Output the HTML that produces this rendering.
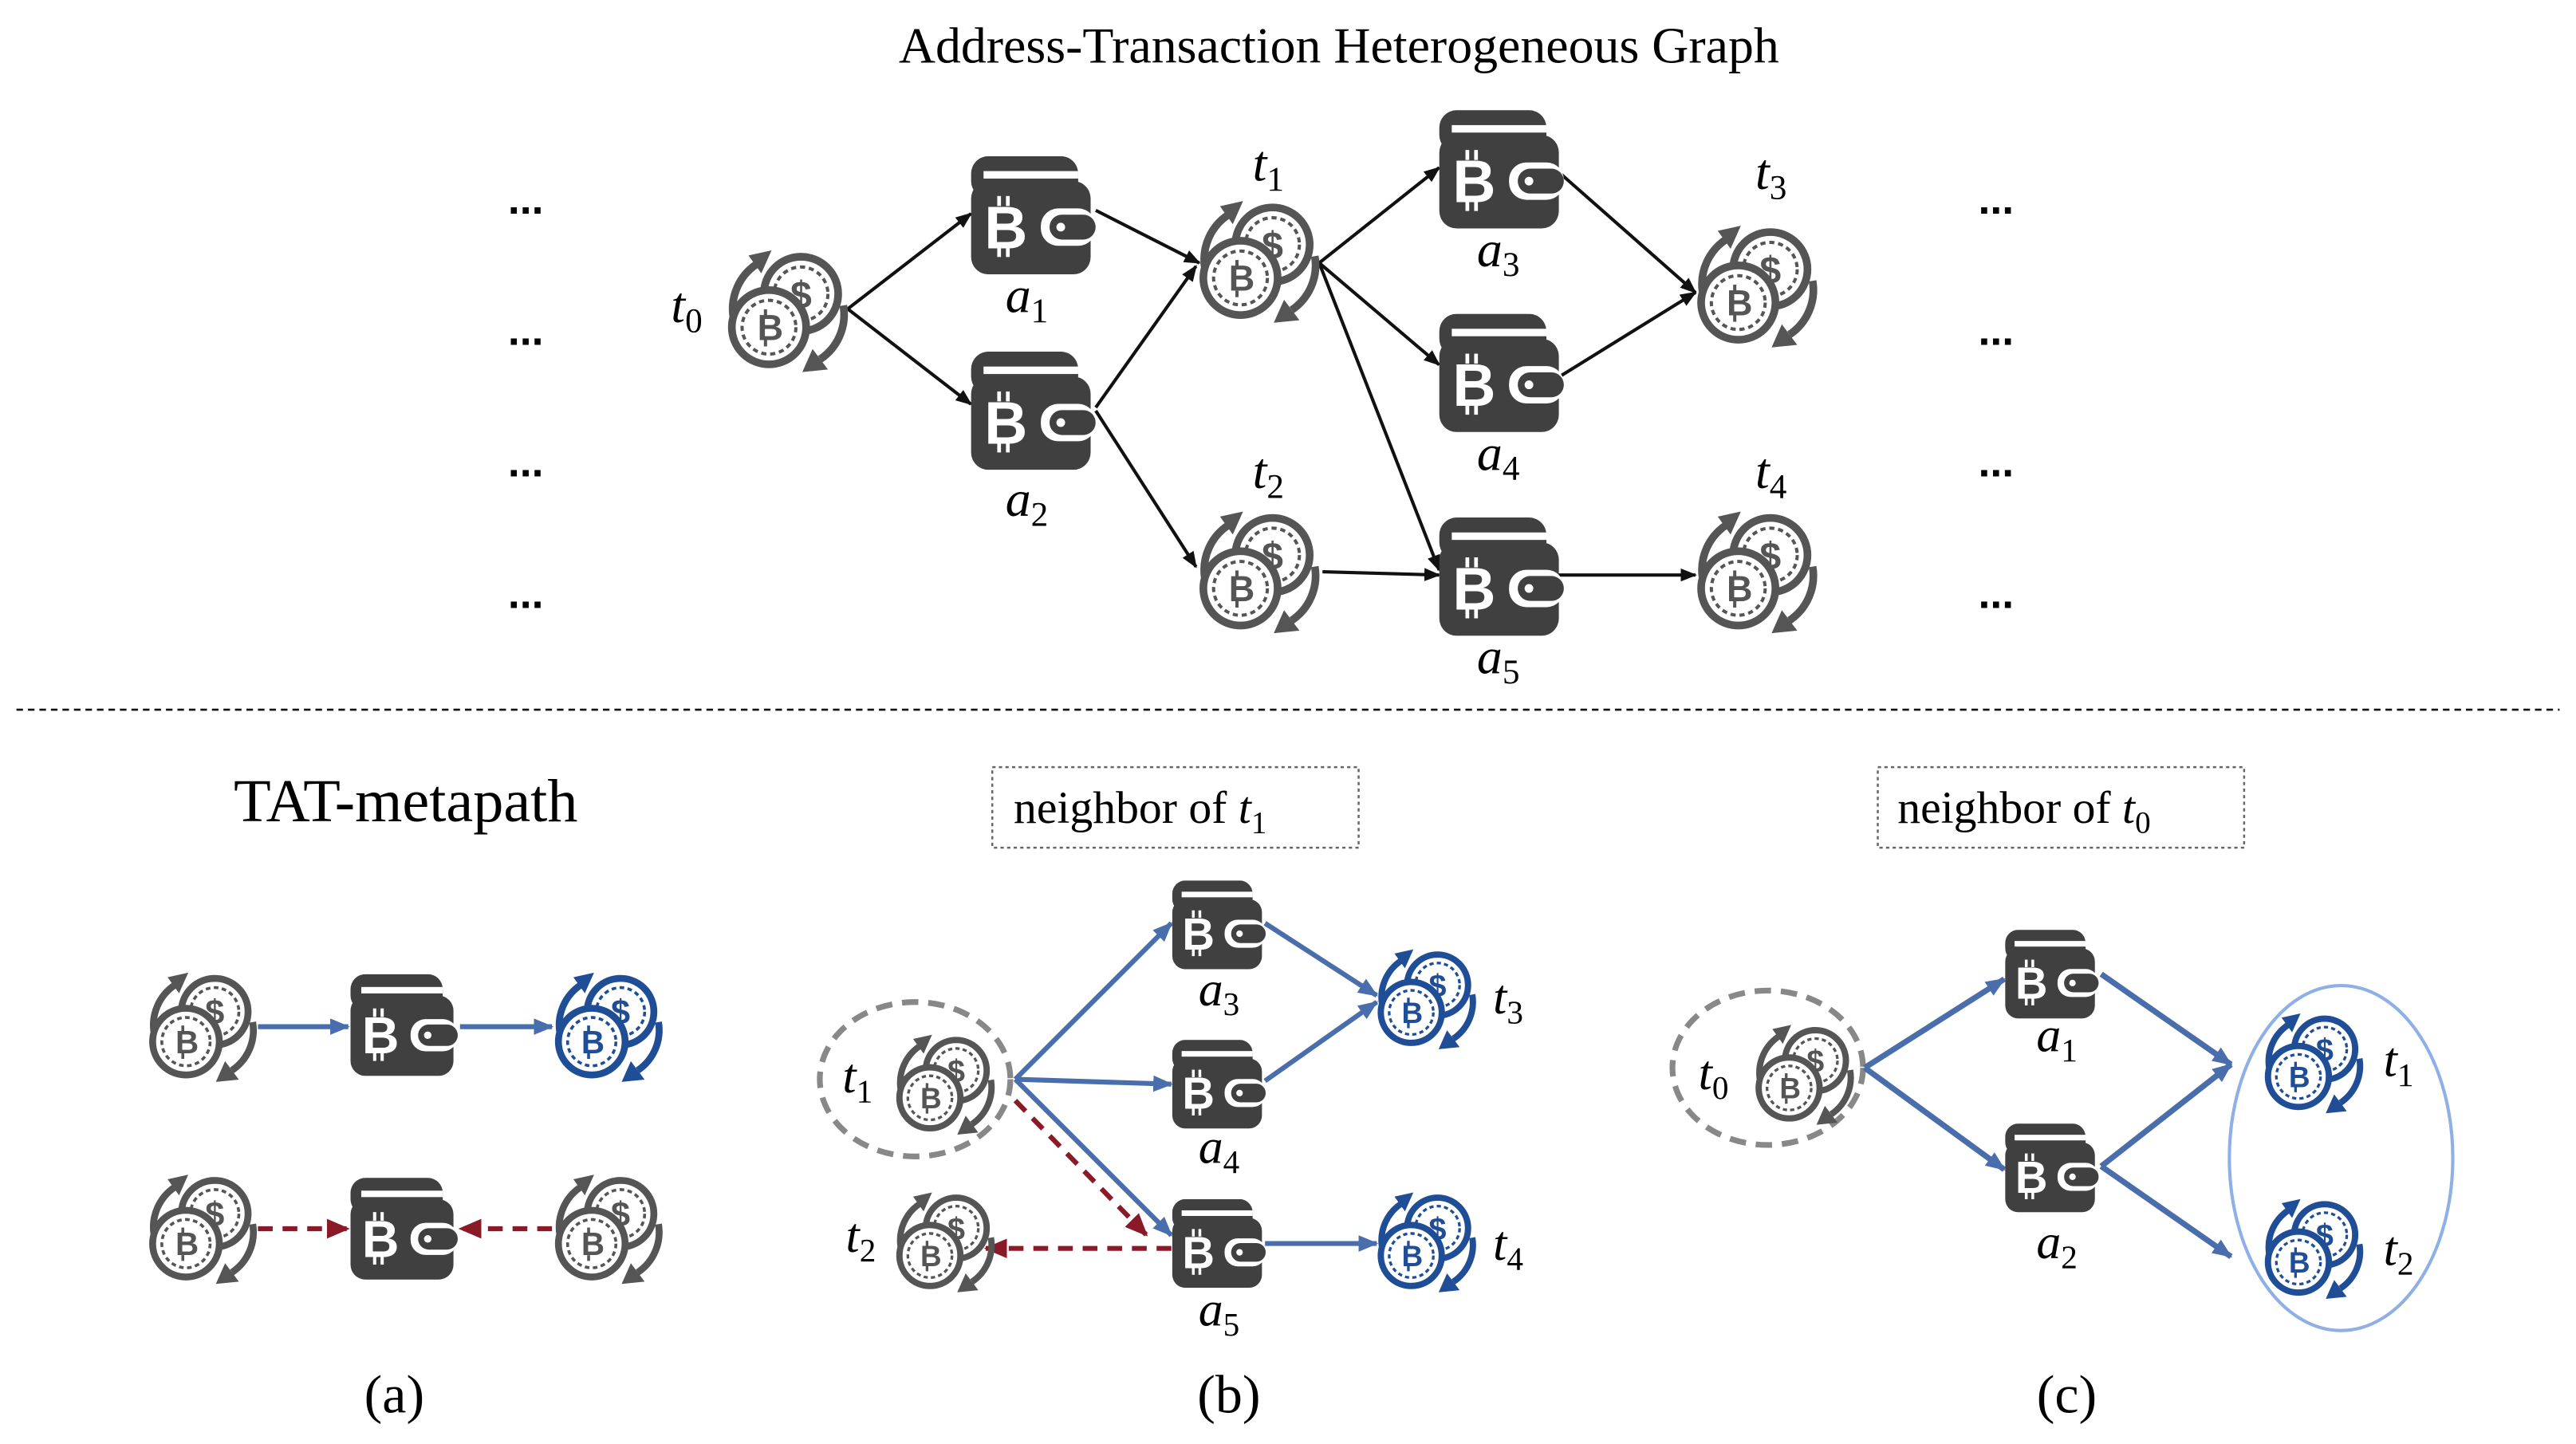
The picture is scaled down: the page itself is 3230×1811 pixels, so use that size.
<!DOCTYPE html>
<html><head><meta charset="utf-8"><style>
html,body{margin:0;padding:0;background:#fff;}
svg{display:block;}
.m{font-family:"Liberation Serif",serif;font-style:italic;}
.s{font-style:normal;}
</style></head><body>
<svg width="3230" height="1811" viewBox="0 0 1568 879" xmlns="http://www.w3.org/2000/svg">
<defs>
<symbol id="coin" viewBox="0 0 100 100">
  <path d="M8 54 A42 42 0 0 1 26 14" fill="none" stroke="currentColor" stroke-width="6"/>
  <polygon points="20,7 38,3 30,21" fill="currentColor"/>
  <path d="M94 46 A42 42 0 0 1 76 88" fill="none" stroke="currentColor" stroke-width="6"/>
  <polygon points="82,96 62,98 70,80" fill="currentColor"/>
  <circle cx="61" cy="37" r="29" fill="#fff" stroke="currentColor" stroke-width="6"/>
  <circle cx="61" cy="37" r="21" fill="none" stroke="currentColor" stroke-width="2.5" stroke-dasharray="4 3"/>
  <text x="61" y="48" text-anchor="middle" font-family="Liberation Sans,sans-serif" font-weight="bold" font-size="30" fill="currentColor">$</text>
  <circle cx="36" cy="63" r="29" fill="#fff" stroke="currentColor" stroke-width="6"/>
  <circle cx="36" cy="63" r="21" fill="none" stroke="currentColor" stroke-width="2.5" stroke-dasharray="4 3"/>
  <text x="37" y="73" text-anchor="middle" font-family="Liberation Sans,sans-serif" font-weight="bold" font-size="28" fill="currentColor">B</text>
  <rect x="32" y="49" width="2.5" height="5" fill="currentColor"/>
  <rect x="32" y="73" width="2.5" height="5" fill="currentColor"/>
</symbol>
<symbol id="wallet" viewBox="0 0 100 95">
  <rect x="0" y="0" width="86" height="34" rx="14" fill="#404040"/>
  <rect x="10" y="12" width="76" height="6" fill="#fff"/>
  <rect x="0" y="20" width="96" height="75" rx="14" fill="#404040"/>
  <rect x="56" y="42" width="44" height="30" rx="14" fill="#fff"/>
  <rect x="63" y="47" width="37" height="20" rx="10" fill="#404040"/>
  <circle cx="72" cy="57" r="3.5" fill="#fff"/>
  <text x="28" y="74" text-anchor="middle" font-family="Liberation Sans,sans-serif" font-weight="bold" font-size="48" fill="#fff">B</text>
  <rect x="21" y="32" width="3" height="8" fill="#fff"/>
  <rect x="28" y="32" width="3" height="8" fill="#fff"/>
  <rect x="21" y="73" width="3" height="8" fill="#fff"/>
  <rect x="28" y="73" width="3" height="8" fill="#fff"/>
</symbol>
<marker id="ab" markerWidth="10" markerHeight="8" refX="9" refY="4" orient="auto" markerUnits="userSpaceOnUse"><polygon points="0,0 10,4 0,8" fill="#111"/></marker>
<marker id="abl" markerWidth="12" markerHeight="10" refX="11" refY="5" orient="auto" markerUnits="userSpaceOnUse"><polygon points="0,0 12,5 0,10" fill="#4a6eab"/></marker>
<marker id="ar" markerWidth="14" markerHeight="12" refX="13" refY="6" orient="auto" markerUnits="userSpaceOnUse"><polygon points="0,0 14,6 0,12" fill="#8b1a28"/></marker>
</defs>

<text x="815" y="38" text-anchor="middle" font-family="Liberation Serif,serif" font-size="31">Address-Transaction Heterogeneous Graph</text>

<g font-family="Liberation Sans,sans-serif" font-weight="bold" font-size="26" text-anchor="middle">
<text x="320" y="130">...</text><text x="320" y="210">...</text><text x="320" y="290">...</text><text x="320" y="370">...</text>
<text x="1215" y="130">...</text><text x="1215" y="210">...</text><text x="1215" y="290">...</text><text x="1215" y="370">...</text>
</g>

<g stroke="#111" stroke-width="2" fill="none" marker-end="url(#ab)">
<line x1="516" y1="188" x2="591" y2="130"/>
<line x1="516" y1="188" x2="591" y2="246"/>
<line x1="667" y1="128" x2="730" y2="160"/>
<line x1="667" y1="248" x2="728" y2="162"/>
<line x1="667" y1="250" x2="728" y2="345"/>
<line x1="803" y1="160" x2="876" y2="102"/>
<line x1="803" y1="160" x2="876" y2="222"/>
<line x1="803" y1="160" x2="876" y2="347"/>
<line x1="948" y1="104" x2="1032" y2="178"/>
<line x1="948" y1="230" x2="1032" y2="178"/>
<line x1="805" y1="348" x2="876" y2="350"/>
<line x1="948" y1="350" x2="1032" y2="350"/>
</g>

<g color="#555">
<use href="#coin" x="440" y="150" width="78" height="78"/>
<use href="#coin" x="727" y="120" width="78" height="78"/>
<use href="#coin" x="727" y="309" width="78" height="78"/>
<use href="#coin" x="1030" y="135" width="78" height="78"/>
<use href="#coin" x="1030" y="309" width="78" height="78"/>
</g>
<use href="#wallet" x="591" y="95" width="76" height="72"/>
<use href="#wallet" x="591" y="214" width="76" height="72"/>
<use href="#wallet" x="876" y="67" width="76" height="72"/>
<use href="#wallet" x="876" y="191" width="76" height="72"/>
<use href="#wallet" x="876" y="315" width="76" height="72"/>

<g class="m" font-size="31" text-anchor="middle">
<text x="418" y="196">t<tspan class="s" font-size="21" dy="6">0</tspan></text>
<text x="625" y="190">a<tspan class="s" font-size="21" dy="6">1</tspan></text>
<text x="625" y="314">a<tspan class="s" font-size="21" dy="6">2</tspan></text>
<text x="772" y="110">t<tspan class="s" font-size="21" dy="6">1</tspan></text>
<text x="772" y="297">t<tspan class="s" font-size="21" dy="6">2</tspan></text>
<text x="912" y="162">a<tspan class="s" font-size="21" dy="6">3</tspan></text>
<text x="912" y="286">a<tspan class="s" font-size="21" dy="6">4</tspan></text>
<text x="912" y="410">a<tspan class="s" font-size="21" dy="6">5</tspan></text>
<text x="1078" y="115">t<tspan class="s" font-size="21" dy="6">3</tspan></text>
<text x="1078" y="297">t<tspan class="s" font-size="21" dy="6">4</tspan></text>
</g>

<line x1="10" y1="432" x2="1558" y2="432" stroke="#111" stroke-width="1.3" stroke-dasharray="4 3"/>

<text x="247" y="500" text-anchor="middle" font-family="Liberation Serif,serif" font-size="37">TAT-metapath</text>
<g stroke="#4a6eab" stroke-width="3" marker-end="url(#abl)">
<line x1="157" y1="625" x2="212" y2="625"/>
<line x1="280" y1="625" x2="336" y2="625"/>
</g>
<g stroke="#8b1a28" stroke-width="3" stroke-dasharray="9 6" marker-end="url(#ar)">
<line x1="157" y1="748" x2="212" y2="748"/>
<line x1="336" y1="748" x2="280" y2="748"/>
</g>
<g color="#555">
<use href="#coin" x="88" y="590" width="70" height="70"/>
<use href="#coin" x="88" y="713" width="70" height="70"/>
<use href="#coin" x="335" y="713" width="70" height="70"/>
</g>
<use href="#coin" x="335" y="590" width="70" height="70" color="#1f4e96"/>
<use href="#wallet" x="212" y="593" width="68" height="62"/>
<use href="#wallet" x="212" y="717" width="68" height="62"/>
<text x="240" y="860" text-anchor="middle" font-family="Liberation Serif,serif" font-size="33">(a)</text>

<rect x="604" y="467" width="223" height="49" fill="none" stroke="#666" stroke-width="1.2" stroke-dasharray="2 2"/>
<text x="617" y="501" font-family="Liberation Serif,serif" font-size="28">neighbor of <tspan class="m">t</tspan><tspan font-size="19" dy="6">1</tspan></text>
<ellipse cx="557" cy="657" rx="58" ry="47" fill="none" stroke="#888" stroke-width="3.5" stroke-dasharray="10 6"/>
<g stroke="#4a6eab" stroke-width="3" marker-end="url(#abl)">
<line x1="618" y1="657" x2="713" y2="562"/>
<line x1="618" y1="657" x2="713" y2="660"/>
<line x1="618" y1="657" x2="713" y2="752"/>
<line x1="770" y1="562" x2="838" y2="606"/>
<line x1="770" y1="658" x2="838" y2="610"/>
<line x1="770" y1="757" x2="838" y2="757"/>
</g>
<g stroke="#8b1a28" stroke-width="3" stroke-dasharray="9 6" marker-end="url(#ar)">
<line x1="618" y1="670" x2="698" y2="752"/>
<line x1="713" y1="760" x2="600" y2="760"/>
</g>
<g color="#555">
<use href="#coin" x="543" y="627" width="64" height="66"/>
<use href="#coin" x="543" y="723" width="64" height="66"/>
</g>
<g color="#1f4e96">
<use href="#coin" x="836" y="575" width="64" height="66"/>
<use href="#coin" x="836" y="723" width="64" height="66"/>
</g>
<use href="#wallet" x="713" y="536" width="58" height="54"/>
<use href="#wallet" x="713" y="633" width="58" height="54"/>
<use href="#wallet" x="713" y="730" width="58" height="54"/>
<g class="m" font-size="30" text-anchor="middle">
<text x="522" y="665">t<tspan class="s" font-size="20" dy="6">1</tspan></text>
<text x="524" y="762">t<tspan class="s" font-size="20" dy="6">2</tspan></text>
<text x="742" y="612">a<tspan class="s" font-size="20" dy="6">3</tspan></text>
<text x="742" y="708">a<tspan class="s" font-size="20" dy="6">4</tspan></text>
<text x="742" y="807">a<tspan class="s" font-size="20" dy="6">5</tspan></text>
<text x="918" y="617">t<tspan class="s" font-size="20" dy="6">3</tspan></text>
<text x="918" y="767">t<tspan class="s" font-size="20" dy="6">4</tspan></text>
</g>
<text x="748" y="860" text-anchor="middle" font-family="Liberation Serif,serif" font-size="33">(b)</text>

<rect x="1143" y="467" width="223" height="49" fill="none" stroke="#666" stroke-width="1.2" stroke-dasharray="2 2"/>
<text x="1155" y="501" font-family="Liberation Serif,serif" font-size="28">neighbor of <tspan class="m">t</tspan><tspan font-size="19" dy="6">0</tspan></text>
<ellipse cx="1076" cy="650" rx="58" ry="47" fill="none" stroke="#888" stroke-width="3.5" stroke-dasharray="10 6"/>
<ellipse cx="1425" cy="705" rx="68" ry="105" fill="none" stroke="#8fb0e6" stroke-width="2"/>
<g stroke="#4a6eab" stroke-width="3.5" marker-end="url(#abl)">
<line x1="1135" y1="650" x2="1220" y2="596"/>
<line x1="1135" y1="650" x2="1220" y2="712"/>
<line x1="1279" y1="593" x2="1358" y2="648"/>
<line x1="1279" y1="710" x2="1358" y2="648"/>
<line x1="1279" y1="710" x2="1358" y2="765"/>
</g>
<use href="#coin" x="1066" y="621" width="64" height="66" color="#555"/>
<g color="#1f4e96">
<use href="#coin" x="1376" y="614" width="64" height="66"/>
<use href="#coin" x="1376" y="727" width="64" height="66"/>
</g>
<use href="#wallet" x="1220" y="566" width="58" height="54"/>
<use href="#wallet" x="1220" y="684" width="58" height="54"/>
<g class="m" font-size="30" text-anchor="middle">
<text x="1043" y="663">t<tspan class="s" font-size="20" dy="6">0</tspan></text>
<text x="1252" y="640">a<tspan class="s" font-size="20" dy="6">1</tspan></text>
<text x="1252" y="766">a<tspan class="s" font-size="20" dy="6">2</tspan></text>
<text x="1460" y="655">t<tspan class="s" font-size="20" dy="6">1</tspan></text>
<text x="1460" y="770">t<tspan class="s" font-size="20" dy="6">2</tspan></text>
</g>
<text x="1258" y="860" text-anchor="middle" font-family="Liberation Serif,serif" font-size="33">(c)</text>
</svg>
</body></html>
